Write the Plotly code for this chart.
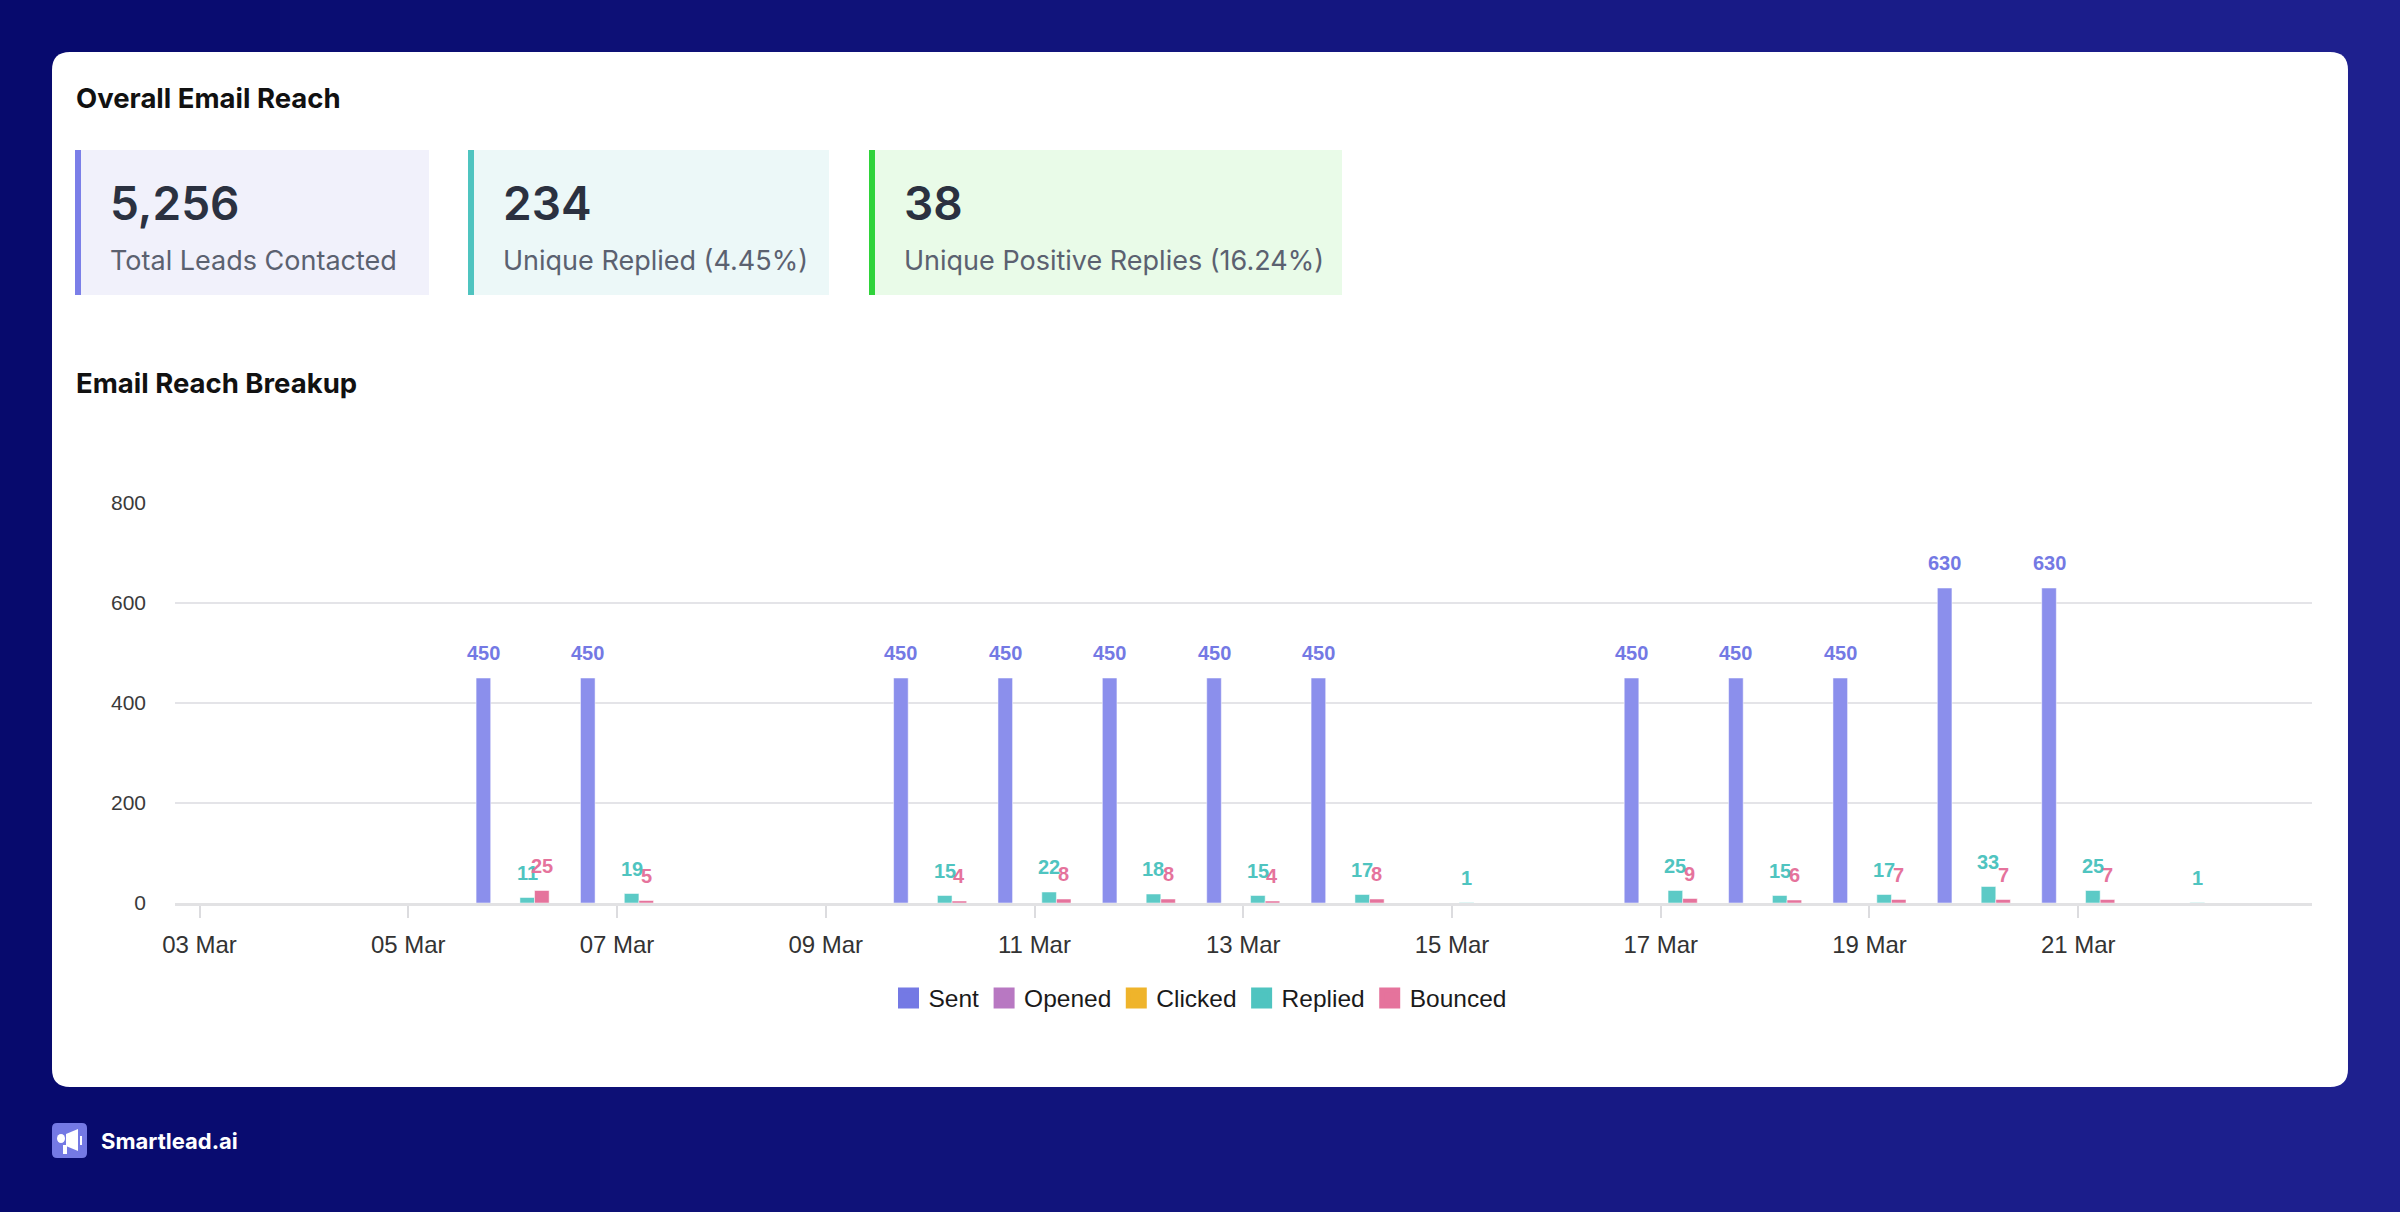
import plotly.graph_objects as go
import pandas as pd

# ---- data ----
dates = ["2024-03-%02d" % d for d in range(3, 23)]
sent = [0, 0, 0, 450, 450, 0, 0, 450, 450, 450, 450, 450, 0, 0, 450, 450, 450, 630, 630, 0]
opened = [0] * 20
clicked = [0] * 20
replied = [0, 0, 0, 11, 19, 0, 0, 15, 22, 18, 15, 17, 1, 0, 25, 15, 17, 33, 25, 1]
bounced = [0, 0, 0, 25, 5, 0, 0, 4, 8, 8, 4, 8, 0, 0, 9, 6, 7, 7, 7, 0]
tick_dates = dates[::2]

series_names = ["Sent", "Opened", "Clicked", "Replied", "Bounced"]
series_vals = [sent, opened, clicked, replied, bounced]
legend_colors = ["#7479e4", "#b878c2", "#efb42b", "#4fc4c0", "#e5739c"]
bar_colors = ["#8b8fec", "#c98ac4", "#f2c24f", "#5ccac6", "#e5739c"]

kpi_values = ["5,256", "234", "38"]
kpi_labels = ["Total Leads Contacted", "Unique Replied (4.45%)", "Unique Positive Replies (16.24%)"]

W, H = 2400, 1212
X_RANGE = ["2024-03-02 18:22", "2024-03-23 05:45"]
PLOT_L, PLOT_R, PLOT_T, PLOT_B = 175, 2312, 503, 903
BARGAP = 0.3


def px(x):
    return x / W


def py(y):
    return 1 - y / H


def rrect(x0, y0, x1, y1, r):
    pts = [("M", x0 + r, y0), ("L", x1 - r, y0), ("Q", x1, y0, x1, y0 + r),
           ("L", x1, y1 - r), ("Q", x1, y1, x1 - r, y1), ("L", x0 + r, y1),
           ("Q", x0, y1, x0, y1 - r), ("L", x0, y0 + r), ("Q", x0, y0, x0 + r, y0)]
    s = ""
    for p in pts:
        cmd, coords = p[0], p[1:]
        s += cmd + " ".join("%.5f,%.5f" % (px(coords[i]), py(coords[i + 1])) for i in range(0, len(coords), 2)) + " "
    return s + "Z"


def mix(c1, c2, t):
    a = [int(c1[i:i + 2], 16) for i in (1, 3, 5)]
    b = [int(c2[i:i + 2], 16) for i in (1, 3, 5)]
    return "#%02x%02x%02x" % tuple(round(a[k] + (b[k] - a[k]) * t) for k in range(3))


fig = go.Figure()

for name, vals, bc in zip(series_names, series_vals, bar_colors):
    fig.add_trace(go.Bar(
        x=dates, y=vals, name=name, marker_color=bc,
        marker_line=dict(color="rgba(255,255,255,0.5)", width=1),
        showlegend=False, hoverinfo="x+y",
    ))

# legend entries
for name, lc in zip(series_names, legend_colors):
    fig.add_trace(go.Scatter(
        x=[None], y=[None], mode="markers", name=name,
        marker=dict(symbol="square", size=16, color=lc, line=dict(color=lc, width=7)),
    ))

annotations = []

# value labels above each bar (pixel shift = position of the bar inside its group)
day_px = (PLOT_R - PLOT_L) / ((pd.Timestamp(X_RANGE[1]) - pd.Timestamp(X_RANGE[0])) / pd.Timedelta(days=1))
bar_px = day_px * (1 - BARGAP) / len(series_names)
for k, (vals, lc) in enumerate(zip(series_vals, legend_colors)):
    for d, v in zip(dates, vals):
        if v:
            annotations.append(dict(x=d, y=v, xref="x", yref="y", text=str(v), showarrow=False,
                                    xshift=(k - 2) * bar_px, yshift=25, yanchor="middle",
                                    font=dict(family="Liberation Sans, Arial", size=20, color=lc, weight="bold")))

shapes = []
# background gradient
n = 60
for i in range(n):
    shapes.append(dict(type="rect", xref="paper", yref="paper", layer="below",
                       x0=i / n, x1=(i + 1.2) / n, y0=0, y1=1,
                       fillcolor=mix("#070a6d", "#1e208f", i / (n - 1)), line_width=0))
# white card
shapes.append(dict(type="path", xref="paper", yref="paper", layer="below",
                   path=rrect(52, 52, 2348, 1087, 18), fillcolor="white", line_width=0))

# kpi cards
cards = [(75, 429, "#f1f1fb", "#7b7fe8"), (468, 829, "#ecf8f8", "#4fc4c0"), (869, 1342, "#e9fbe8", "#2fd33a")]
for (x0, x1, fill, border), val, lab in zip(cards, kpi_values, kpi_labels):
    shapes.append(dict(type="rect", xref="paper", yref="paper", layer="below",
                       x0=px(x0), x1=px(x1), y0=py(295), y1=py(150), fillcolor=fill, line_width=0))
    shapes.append(dict(type="rect", xref="paper", yref="paper", layer="below",
                       x0=px(x0), x1=px(x0 + 6), y0=py(295), y1=py(150), fillcolor=border, line_width=0))
    annotations.append(dict(x=px(x0 + 33), y=py(203), xref="paper", yref="paper", text=val,
                            showarrow=False, xanchor="left", yanchor="middle",
                            font=dict(family="Inter", size=46, color="#2b3140", weight=600)))
    annotations.append(dict(x=px(x0 + 33), y=py(260), xref="paper", yref="paper", text=lab,
                            showarrow=False, xanchor="left", yanchor="middle",
                            font=dict(family="Inter", size=27, color="#5b6170")))

annotations.append(dict(x=px(74), y=py(98), xref="paper", yref="paper", text="Overall Email Reach",
                        showarrow=False, xanchor="left", yanchor="middle",
                        font=dict(family="Inter", size=27.5, color="#111111", weight="bold")))
annotations.append(dict(x=px(74), y=py(383), xref="paper", yref="paper", text="Email Reach Breakup",
                        showarrow=False, xanchor="left", yanchor="middle",
                        font=dict(family="Inter", size=27.5, color="#111111", weight="bold")))

# logo
shapes.append(dict(type="path", xref="paper", yref="paper", path=rrect(52, 1123, 87, 1158, 5),
                   fillcolor="#7479e4", line_width=0))
shapes.append(dict(type="circle", xref="paper", yref="paper", x0=px(57), x1=px(65), y0=py(1143), y1=py(1134),
                   fillcolor="white", line_width=0))
shapes.append(dict(type="path", xref="paper", yref="paper",
                   path="M%.5f,%.5f L%.5f,%.5f L%.5f,%.5f L%.5f,%.5f Z" % (
                       px(66), py(1134), px(78), py(1129), px(78), py(1151), px(66), py(1146)),
                   fillcolor="white", line_width=0))
shapes.append(dict(type="rect", xref="paper", yref="paper", x0=px(63), x1=px(67), y0=py(1154), y1=py(1145),
                   fillcolor="white", line_width=0))
shapes.append(dict(type="rect", xref="paper", yref="paper", x0=px(80), x1=px(82), y0=py(1145), y1=py(1136),
                   fillcolor="white", line_width=0))
annotations.append(dict(x=px(99), y=py(1141), xref="paper", yref="paper", text="Smartlead.ai",
                        showarrow=False, xanchor="left", yanchor="middle",
                        font=dict(family="Inter", size=22, color="white", weight="bold")))

fig.update_layout(
    width=W, height=H, margin=dict(l=0, r=0, t=0, b=0, autoexpand=False),
    paper_bgcolor="#10127c", plot_bgcolor="white",
    font=dict(family="Liberation Sans, Arial", color="#333333"),
    barmode="group", bargap=BARGAP, bargroupgap=0,
    shapes=shapes, annotations=annotations,
    legend=dict(orientation="h", x=0.5, xanchor="center", y=py(998), yanchor="middle",
                font=dict(size=24.5, color="#1a1a1a"), bgcolor="rgba(0,0,0,0)", itemwidth=30),
    xaxis=dict(type="date", domain=[px(PLOT_L), px(PLOT_R)], range=X_RANGE, automargin=False,
               tickvals=tick_dates, tickformat="%d %b",
               showgrid=False, showline=True, linecolor="#e2e2e4", linewidth=3,
               ticks="outside", ticklen=12, tickwidth=2, tickcolor="#dcdcdf",
               tickfont=dict(size=24, color="#333333"), ticklabelstandoff=6),
    yaxis=dict(domain=[py(PLOT_B), py(PLOT_T)], range=[0, 800], dtick=200, automargin=False,
               gridcolor="#e4e4e8", gridwidth=2, zeroline=False,
               tickfont=dict(size=21, color="#3a3a3a"), ticklabelstandoff=28),
)

fig.write_html("out.html", config={"displayModeBar": False},
               post_script="document.body.style.margin='0';document.body.style.overflow='hidden';")
